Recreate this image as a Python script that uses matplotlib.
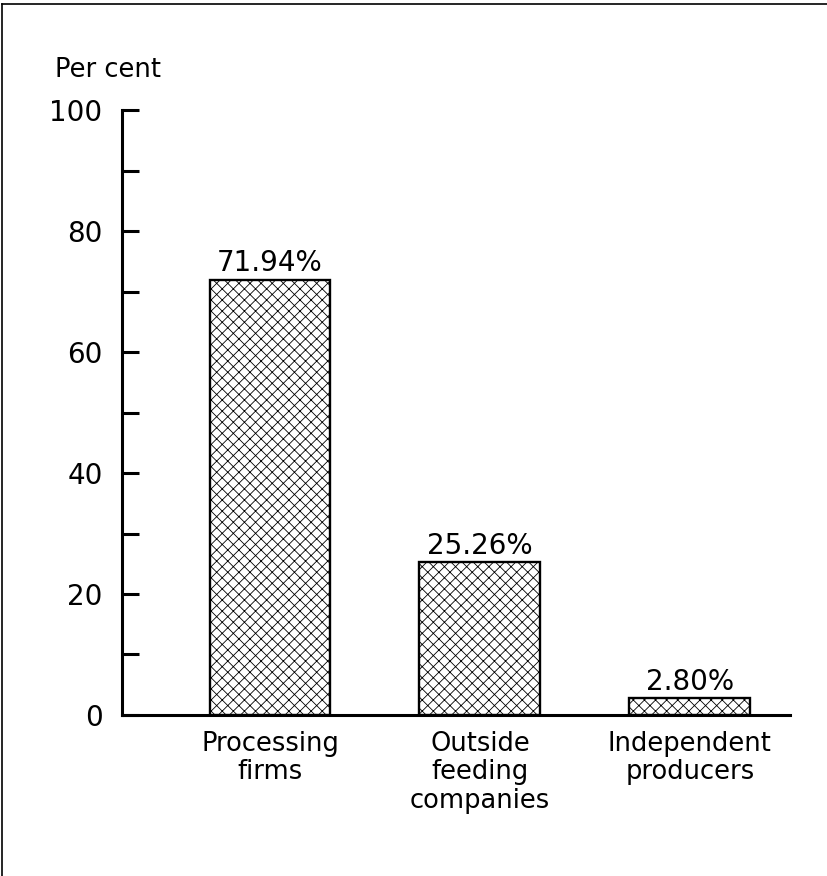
import matplotlib.pyplot as plt
from matplotlib.lines import Line2D

# data
categories = ["Processing\nfirms", "Outside\nfeeding\ncompanies", "Independent\nproducers"]
shares = [71.94, 25.26, 2.80]
share_labels = ["71.94%", "25.26%", "2.80%"]
y_major = [0, 20, 40, 60, 80, 100]
y_minor = [10, 30, 50, 70, 90]

plt.rcParams["font.family"] = ["DejaVu Sans"]
plt.rcParams["hatch.linewidth"] = 0.6

fig = plt.figure(figsize=(8.27, 8.76), dpi=100)
ax = fig.add_axes([0.1475, 0.1838, 0.8075, 0.6906])

x = list(range(len(categories)))
bars = ax.bar(x, shares, width=0.576, color="white", edgecolor="black",
              linewidth=1.7, hatch="xxx")

for xi, val, lab in zip(x, shares, share_labels):
    ax.text(xi, val + 0.4, lab, ha="center", va="bottom", fontsize=20)

for xi, cat in zip(x, categories):
    ax.text(xi, -2.6, cat, ha="center", va="top", fontsize=18.5, linespacing=1.12)

ax.set_xlim(-0.705, 2.476)
ax.set_ylim(0, 100)
ax.set_xticks([])
ax.set_yticks(y_major)
ax.set_yticks(y_minor, minor=True)
ax.tick_params(axis="y", which="both", direction="in", length=12, width=2.2,
               labelsize=20, pad=14)

for side in ["top", "right"]:
    ax.spines[side].set_visible(False)
for side in ["left", "bottom"]:
    ax.spines[side].set_linewidth(2.2)
    ax.spines[side].set_capstyle("projecting")

fig.text(55 / 827, 1 - 77 / 876, "Per cent", ha="left", va="baseline", fontsize=18.5)

# scanned page frame (left and top edges)
fig.add_artist(Line2D([0.003, 0.003], [0, 0.995], color="black", linewidth=1.2,
                      transform=fig.transFigure))
fig.add_artist(Line2D([0.003, 1.0], [0.995, 0.995], color="black", linewidth=1.2,
                      transform=fig.transFigure))

fig.savefig("out.png", dpi=100)
